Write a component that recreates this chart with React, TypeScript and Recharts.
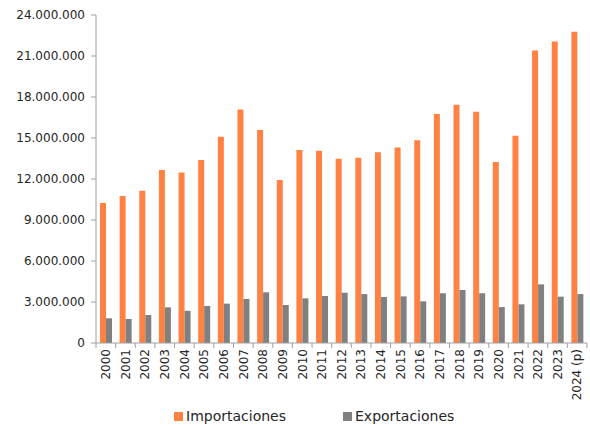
import { BarChart, Bar, XAxis, YAxis, Legend } from 'recharts';

const years = [
  '2000', '2001', '2002', '2003', '2004', '2005', '2006', '2007', '2008', '2009',
  '2010', '2011', '2012', '2013', '2014', '2015', '2016', '2017', '2018', '2019',
  '2020', '2021', '2022', '2023', '2024 (p)',
];

const importaciones = [
  10240000, 10750000, 11140000, 12660000, 12480000, 13390000, 15090000, 17090000, 15580000, 11920000,
  14120000, 14070000, 13480000, 13560000, 13950000, 14310000, 14830000, 16750000, 17430000, 16920000,
  13240000, 15170000, 21410000, 22070000, 22770000,
];

const exportaciones = [
  1810000, 1760000, 2050000, 2610000, 2360000, 2710000, 2880000, 3220000, 3710000, 2780000,
  3270000, 3440000, 3680000, 3580000, 3370000, 3410000, 3050000, 3640000, 3880000, 3640000,
  2630000, 2830000, 4290000, 3390000, 3580000,
];

const yTicks = [0, 3000000, 6000000, 9000000, 12000000, 15000000, 18000000, 21000000, 24000000];

const data = years.map((year, i) => ({
  year,
  importaciones: importaciones[i],
  exportaciones: exportaciones[i],
}));

const W = 590;
const H = 427;
const M = { top: 15, right: 3, left: 0, bottom: 0 };
const Y_W = 96;
const HALF_BAND = (W - M.right - Y_W) / years.length / 2;

const FONT = '"DejaVu Sans", Verdana, sans-serif';
const AXIS = '#a0a0a0';
const ORANGE = '#ff8243';
const GRAY = '#808080';

const fmt = (v: number) => String(v).replace(/\B(?=(\d{3})+(?!\d))/g, '.');

function YearTick({ x, y, payload, index }: any) {
  const last = index === years.length - 1;
  return (
    <g>
      <line x1={x - HALF_BAND} x2={x - HALF_BAND} y1={y} y2={y + 5} stroke={AXIS} />
      {last && <line x1={x + HALF_BAND} x2={x + HALF_BAND} y1={y} y2={y + 5} stroke={AXIS} />}
      <text
        x={x}
        y={y + 6}
        dy="0.36em"
        transform={`rotate(-90 ${x} ${y + 6})`}
        textAnchor="end"
        fontSize={12}
        fontFamily={FONT}
        fill="#262626"
      >
        {payload.value}
      </text>
    </g>
  );
}

function LegendBox() {
  const item = (color: string, label: string, width: number) => (
    <div style={{ display: 'flex', alignItems: 'center', width }}>
      <span style={{ width: 9, height: 9, background: color, marginRight: 3 }} />
      <span>{label}</span>
    </div>
  );
  return (
    <div
      style={{
        height: 22,
        display: 'flex',
        alignItems: 'center',
        paddingLeft: 174,
        fontFamily: FONT,
        fontSize: 14,
        color: '#262626',
      }}
    >
      {item(ORANGE, 'Importaciones', 169)}
      {item(GRAY, 'Exportaciones', 120)}
    </div>
  );
}

export default function App() {
  return (
    <div style={{ position: 'absolute', left: 0, top: 0, width: W, height: H, background: '#fff' }}>
      <BarChart width={W} height={H} data={data} margin={M} barGap={0} barSize={6}>
        <XAxis
          dataKey="year"
          interval={0}
          height={62}
          tickSize={0}
          tickMargin={0}
          tickLine={false}
          axisLine={{ stroke: AXIS }}
          tick={<YearTick />}
        />
        <YAxis
          width={Y_W}
          domain={[0, 24000000]}
          ticks={yTicks}
          interval={0}
          tickSize={5}
          tickMargin={6}
          axisLine={{ stroke: AXIS }}
          tickLine={{ stroke: AXIS }}
          tickFormatter={fmt}
          tick={{ fontSize: 12, fontFamily: FONT, fill: '#262626' }}
        />
        <Legend verticalAlign="bottom" content={<LegendBox />} wrapperStyle={{ left: 0, width: W }} />
        <Bar dataKey="importaciones" name="Importaciones" fill={ORANGE} isAnimationActive={false} />
        <Bar dataKey="exportaciones" name="Exportaciones" fill={GRAY} isAnimationActive={false} />
      </BarChart>
    </div>
  );
}
